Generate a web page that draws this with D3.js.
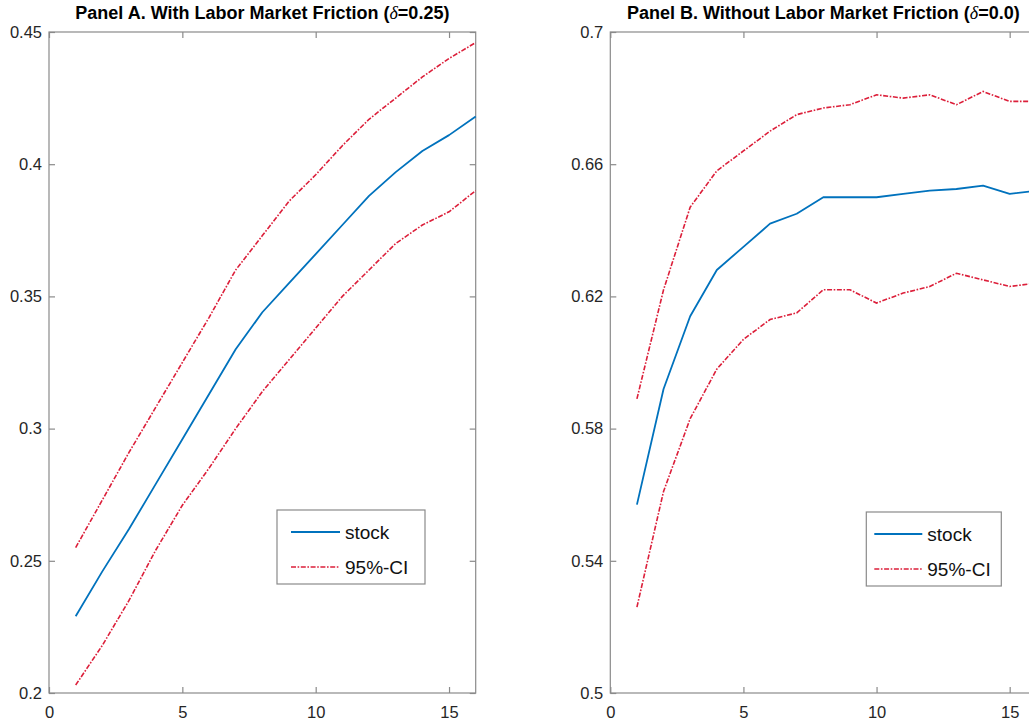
<!DOCTYPE html>
<html>
<head>
<meta charset="utf-8">
<script src="https://cdn.jsdelivr.net/npm/d3@7"></script>
<style>
  body { margin: 0; background: #fff; overflow: hidden; }
  svg { display: block; font-family: "Liberation Sans", Arial, sans-serif; }
</style>
</head>
<body>
<svg id="chart" width="1029" height="725"></svg>
<script>
// periods on the x axis
var periods = [1, 2, 3, 4, 5, 6, 7, 8, 9, 10, 11, 12, 13, 14, 15, 16];

// Panel A (delta = 0.25)
var stockA = [0.229, 0.246, 0.262, 0.279, 0.296, 0.313, 0.330, 0.344, 0.355, 0.366, 0.377, 0.388, 0.397, 0.405, 0.411, 0.418];
var upperA = [0.255, 0.273, 0.291, 0.308, 0.325, 0.342, 0.360, 0.373, 0.386, 0.396, 0.407, 0.417, 0.425, 0.433, 0.440, 0.446];
var lowerA = [0.203, 0.218, 0.235, 0.254, 0.271, 0.285, 0.300, 0.314, 0.326, 0.338, 0.350, 0.360, 0.370, 0.377, 0.382, 0.390];

// Panel B (delta = 0.0)
var stockB = [0.557, 0.592, 0.614, 0.628, 0.635, 0.642, 0.645, 0.650, 0.650, 0.650, 0.651, 0.652, 0.6525, 0.6535, 0.651, 0.652];
var upperB = [0.589, 0.622, 0.647, 0.658, 0.664, 0.670, 0.675, 0.677, 0.678, 0.681, 0.680, 0.681, 0.678, 0.682, 0.679, 0.679];
var lowerB = [0.526, 0.561, 0.583, 0.598, 0.607, 0.613, 0.615, 0.622, 0.622, 0.618, 0.621, 0.623, 0.627, 0.625, 0.623, 0.624];

// tick labels
var xTicks = [0, 5, 10, 15];
var yTicksA = [0.2, 0.25, 0.3, 0.35, 0.4, 0.45];
var yLabelsA = ["0.2", "0.25", "0.3", "0.35", "0.4", "0.45"];
var yTicksB = [0.5, 0.54, 0.58, 0.62, 0.66, 0.7];
var yLabelsB = ["0.5", "0.54", "0.58", "0.62", "0.66", "0.7"];

var legendNames = ["stock", "95%-CI"];

var svg = d3.select("#chart");
var axisColor = "#8a8a8a";
var blue = "#0072bd", red = "#dc1f3a";
var dash = "5,1.6,1.6,1.6";

function drawPanel(opt) {
    var g = svg.append("g").attr("transform", "translate(" + opt.left + "," + opt.top + ")");
    var w = opt.width, h = opt.height;

    var x = d3.scaleLinear().domain([0, 16]).range([0, w]);
    var y = d3.scaleLinear().domain(opt.yDomain).range([h, 0]);

    // 框
    g.append("rect")
        .attr("x", 0).attr("y", 0).attr("width", w).attr("height", h)
        .attr("fill", "none").attr("stroke", axisColor).attr("stroke-width", 1.2);

    // 左轴
    var ya = g.append("g")
        .call(d3.axisLeft(y).tickValues(opt.yTicks)
            .tickFormat(function (d, i) { return opt.yLabels[i]; })
            .tickSizeInner(-6).tickSizeOuter(0).tickPadding(7));
    // 下轴
    var xa = g.append("g")
        .attr("transform", "translate(0," + h + ")")
        .call(d3.axisBottom(x).tickValues(xTicks)
            .tickSizeInner(-6).tickSizeOuter(0).tickPadding(13));
    // 上、右轴只有刻度
    var ta = g.append("g")
        .call(d3.axisTop(x).tickValues(xTicks).tickFormat("").tickSizeInner(-6).tickSizeOuter(0));
    var ra = g.append("g")
        .attr("transform", "translate(" + w + ",0)")
        .call(d3.axisRight(y).tickValues(opt.yTicks).tickFormat("").tickSizeInner(-6).tickSizeOuter(0));

    [ya, xa, ta, ra].forEach(function (a) {
        a.select(".domain").remove();
        a.selectAll(".tick line").attr("stroke", axisColor).attr("stroke-width", 1.2);
        a.selectAll(".tick text")
            .attr("fill", "#262626")
            .style("font-size", "16.5px")
            .style("font-family", "'Liberation Sans', Arial, sans-serif");
    });

    var line = d3.line()
        .x(function (d, i) { return x(periods[i]); })
        .y(function (d) { return y(d); });

    [opt.upper, opt.lower].forEach(function (s) {
        g.append("path")
            .datum(s)
            .attr("fill", "none")
            .attr("stroke", red)
            .attr("stroke-width", 1.6)
            .attr("stroke-dasharray", dash)
            .attr("d", line);
    });

    g.append("path")
        .datum(opt.stock)
        .attr("fill", "none")
        .attr("stroke", blue)
        .attr("stroke-width", 1.8)
        .attr("stroke-linejoin", "round")
        .attr("d", line);

    // 标题
    var title = g.append("text")
        .attr("x", w / 2).attr("y", -13)
        .attr("text-anchor", "middle")
        .attr("fill", "#000")
        .style("font-size", "18px")
        .style("font-weight", "bold");
    title.append("tspan").text(opt.titlePre);
    title.append("tspan").text("\u03b4")
        .style("font-family", "'Liberation Serif', serif")
        .style("font-style", "italic")
        .style("font-weight", "normal");
    title.append("tspan").text(opt.titlePost);

    // 图例
    var lg = g.append("g").attr("transform", "translate(" + opt.legX + "," + opt.legY + ")");
    lg.append("rect")
        .attr("width", opt.legW).attr("height", 74)
        .attr("fill", "#fff").attr("stroke", axisColor).attr("stroke-width", 1.2);
    legendNames.forEach(function (name, i) {
        var ry = 22 + i * 35;
        lg.append("line")
            .attr("x1", opt.legLine[0]).attr("x2", opt.legLine[1]).attr("y1", ry).attr("y2", ry)
            .attr("stroke", i === 0 ? blue : red)
            .attr("stroke-width", i === 0 ? 1.8 : 1.6)
            .attr("stroke-dasharray", i === 0 ? null : dash);
        lg.append("text")
            .attr("x", opt.legLine[1] + 5).attr("y", ry)
            .attr("dy", "0.35em")
            .attr("fill", "#111")
            .style("font-size", "19px")
            .text(name);
    });
}

drawPanel({
    left: 49, top: 32, width: 426.7, height: 661,
    yDomain: [0.2, 0.45], yTicks: yTicksA, yLabels: yLabelsA,
    stock: stockA, upper: upperA, lower: lowerA,
    titlePre: "Panel A. With Labor Market Friction (", titlePost: "=0.25)",
    legX: 228, legY: 478, legW: 148, legLine: [14, 63]
});

drawPanel({
    left: 610.3, top: 32, width: 426, height: 661,
    yDomain: [0.5, 0.7], yTicks: yTicksB, yLabels: yLabelsB,
    stock: stockB, upper: upperB, lower: lowerB,
    titlePre: "Panel B. Without Labor Market Friction (", titlePost: "=0.0)",
    legX: 256, legY: 480, legW: 135, legLine: [8, 56]
});
</script>
</body>
</html>
